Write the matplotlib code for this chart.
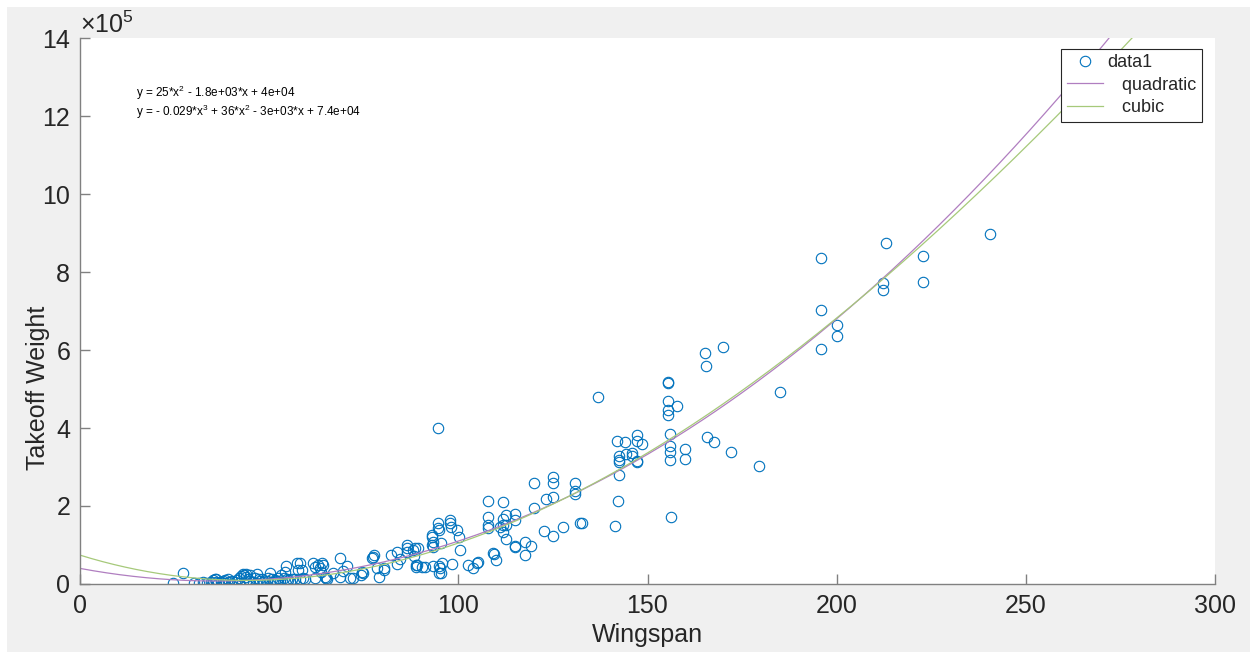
import matplotlib.pyplot as plt
import numpy as np
from matplotlib.patches import Rectangle

plt.rcParams['font.family'] = ['Liberation Sans', 'DejaVu Sans']
plt.rcParams['mathtext.fontset'] = 'custom'
plt.rcParams['mathtext.rm'] = 'Liberation Sans'
plt.rcParams['mathtext.it'] = 'Liberation Sans:italic'

# wingspan vs takeoff weight (weight in units of 1e5)
wingspan = [
    240.6, 213.1, 212.2, 212.2, 222.8, 222.8, 195.8, 195.8, 195.8, 200.0, 200.0,
    165.3, 165.5, 169.9, 185.0, 165.7, 167.7, 172.0, 179.6,
    137.0, 155.3, 155.3, 155.3, 155.3, 155.3, 157.7, 141.9, 144.1, 147.1, 147.1,
    148.5, 142.5, 144.2, 145.8, 142.4, 142.4, 146.0, 147.2, 147.2, 142.5, 156.0,
    156.0, 156.0, 156.0, 160.0, 160.0, 156.3, 142.3, 141.4,
    130.8, 130.8, 130.8, 127.6, 132.2, 132.6, 120.0, 124.9, 124.9, 123.2, 124.9,
    120.0, 122.6, 124.9,
    94.7, 107.9, 111.8, 107.9, 107.9, 107.9, 111.8, 111.8, 111.8, 112.6, 115.0,
    115.0, 111.0, 112.5, 112.5, 114.9, 114.9, 117.6, 119.1, 117.5, 109.1, 109.4,
    110.0, 105.1, 105.0, 102.5, 104.0, 100.4, 100.3, 99.7,
    97.8, 97.8, 98.0, 94.7, 94.7, 94.9, 93.1, 93.1, 93.4, 93.1, 93.4, 95.3, 98.2,
    94.9, 95.2, 94.9, 95.4, 95.8, 93.4, 91.2, 90.3,
    88.7, 88.7, 89.4, 88.6, 86.4, 86.4, 86.4, 83.7, 82.1, 83.7, 84.6, 88.3, 89.0,
    88.1,
    77.7, 77.4, 78.4, 80.4, 80.4, 78.9, 77.1,
    68.7, 70.5, 68.7, 71.4, 72.2, 74.2, 74.7, 74.5, 64.8, 67.0, 69.6,
    61.7, 62.1, 63.0, 63.9, 63.4, 64.3, 63.6, 58.2, 58.6, 59.0, 59.5, 64.9, 65.4,
    62.0,
    24.5, 27.3, 30.0, 31.5, 32.6, 33.5, 34.5, 35.2, 35.6, 36.0, 36.5, 37.2, 37.9,
    38.3, 39.0, 39.5, 40.3, 41.0, 41.4, 42.0, 42.5, 43.0, 43.4, 43.9, 44.4, 44.8,
    45.8, 46.2, 46.9, 47.2, 47.6, 48.5, 49.3, 49.8, 50.2, 50.7, 51.1, 52.0, 52.4,
    52.9, 53.8, 54.2, 54.6, 54.4, 55.1, 56.0, 56.9, 57.3, 57.7, 58.2, 55.5, 45.0,
    44.0, 36.0, 35.0, 40.0, 42.0, 46.5, 48.0, 51.5, 53.0, 38.0,
]
takeoff_weight = [
    8.97, 8.74, 7.71, 7.54, 8.42, 7.74, 8.37, 7.03, 6.03, 6.63, 6.37,
    5.93, 5.59, 6.07, 4.92, 3.78, 3.65, 3.38, 3.03,
    4.80, 5.19, 5.15, 4.69, 4.46, 4.33, 4.57, 3.67, 3.65, 3.82, 3.67,
    3.58, 3.29, 3.33, 3.37, 3.18, 3.14, 3.28, 3.16, 3.12, 2.79, 3.84,
    3.53, 3.38, 3.18, 3.46, 3.21, 1.73, 2.12, 1.48,
    2.60, 2.38, 2.31, 1.45, 1.57, 1.57, 2.58, 2.75, 2.58, 2.18, 2.24,
    1.96, 1.37, 1.24,
    3.99, 2.13, 2.09, 1.71, 1.51, 1.44, 1.67, 1.51, 1.34, 1.77, 1.80,
    1.63, 1.47, 1.50, 1.15, 0.98, 0.95, 1.07, 0.98, 0.75, 0.79, 0.78,
    0.62, 0.57, 0.53, 0.49, 0.40, 0.88, 1.21, 1.38,
    1.64, 1.56, 1.47, 1.56, 1.43, 1.38, 1.26, 1.20, 1.08, 1.00, 0.96, 1.06, 0.51,
    0.47, 0.40, 0.27, 0.29, 0.55, 0.47, 0.44, 0.44,
    0.49, 0.44, 0.93, 0.92, 1.00, 0.92, 0.83, 0.83, 0.74, 0.51, 0.63, 0.72, 0.49,
    0.87,
    0.74, 0.70, 0.40, 0.40, 0.36, 0.19, 0.66,
    0.67, 0.46, 0.17, 0.15, 0.16, 0.23, 0.27, 0.32, 0.19, 0.27, 0.33,
    0.53, 0.44, 0.49, 0.53, 0.40, 0.49, 0.32, 0.55, 0.36, 0.15, 0.13, 0.15, 0.12,
    0.16,
    0.03, 0.27, 0.03, 0.02, 0.04, 0.03, 0.04, 0.09, 0.14, 0.06, 0.02, 0.04, 0.07,
    0.10, 0.13, 0.05, 0.07, 0.04, 0.10, 0.15, 0.20, 0.25, 0.22, 0.18, 0.12, 0.08,
    0.05, 0.16, 0.26, 0.13, 0.07, 0.04, 0.07, 0.15, 0.27, 0.12, 0.05, 0.08, 0.15,
    0.05, 0.15, 0.30, 0.13, 0.46, 0.10, 0.12, 0.12, 0.53, 0.36, 0.12, 0.05, 0.22,
    0.26, 0.12, 0.00, 0.00, 0.03, 0.02, 0.12, 0.10, 0.22, 0.02,
]

# fit coefficients as shown on the chart
quad_coef = [25, -1.8e3, 4e4]
cubic_coef = [-0.029, 36, -3e3, 7.4e4]
quad_label = 'y = 25*x$^2$ - 1.8e+03*x + 4e+04'
cubic_label = 'y = - 0.029*x$^3$ + 36*x$^2$ - 3e+03*x + 7.4e+04'

fig = plt.figure(figsize=(12.5, 6.52), dpi=100, facecolor='white')
fig.patches.append(Rectangle((7 / 1250, 0), 1, (652 - 7) / 652,
                             transform=fig.transFigure, facecolor='#f0f0f0',
                             edgecolor='none', zorder=-10))
ax = fig.add_axes([0.064, 0.1043, 0.908, 0.8374])

ax.plot(wingspan, takeoff_weight, 'o', mfc='none', mec='#0072BD', ms=7.5,
        mew=0.8, label='data1')
xf = np.linspace(0, 300, 601)
ax.plot(xf, np.polyval(quad_coef, xf) / 1e5, color='#B07EC0', lw=0.9,
        label='   quadratic')
ax.plot(xf, np.polyval(cubic_coef, xf) / 1e5, color='#A6C97A', lw=0.9,
        label='   cubic')

ax.set_xlim(0, 300)
ax.set_ylim(0, 14)
ax.set_xticks(np.arange(0, 301, 50))
ax.set_yticks(np.arange(0, 15, 2))
ax.spines['top'].set_visible(False)
ax.spines['right'].set_visible(False)
for s in ['left', 'bottom']:
    ax.spines[s].set_color('#808080')
    ax.spines[s].set_linewidth(1.0)
ax.tick_params(direction='in', length=7, width=1.0, color='#808080',
               labelsize=18, labelcolor='#262626', pad=7)

ax.set_xlabel('Wingspan', fontsize=18, color='#262626', labelpad=4)
ax.set_ylabel('Takeoff Weight', fontsize=18, color='#262626',
              va='center', ha='center')
ax.yaxis.set_label_coords(-0.037, 0.36)
ax.text(0.0, 1.0, r'$\times$10$^5$', transform=ax.transAxes, fontsize=18,
        color='#262626', ha='left', va='bottom')

ax.text(14.8, 12.6, quad_label, fontsize=8.5, color='black', va='center')
ax.text(14.8, 12.1, cubic_label, fontsize=8.5, color='black', va='center')

leg = ax.legend(loc='upper right', bbox_to_anchor=(0.9885, 0.98), fontsize=13,
                fancybox=False, framealpha=1, edgecolor='#262626',
                handlelength=2.0, handletextpad=0.25, labelspacing=0.3,
                borderpad=0.3, borderaxespad=0)
leg.get_frame().set_linewidth(0.8)
for t in leg.get_texts():
    t.set_color('#262626')

fig.savefig('out.png', dpi=100, facecolor=fig.get_facecolor())
